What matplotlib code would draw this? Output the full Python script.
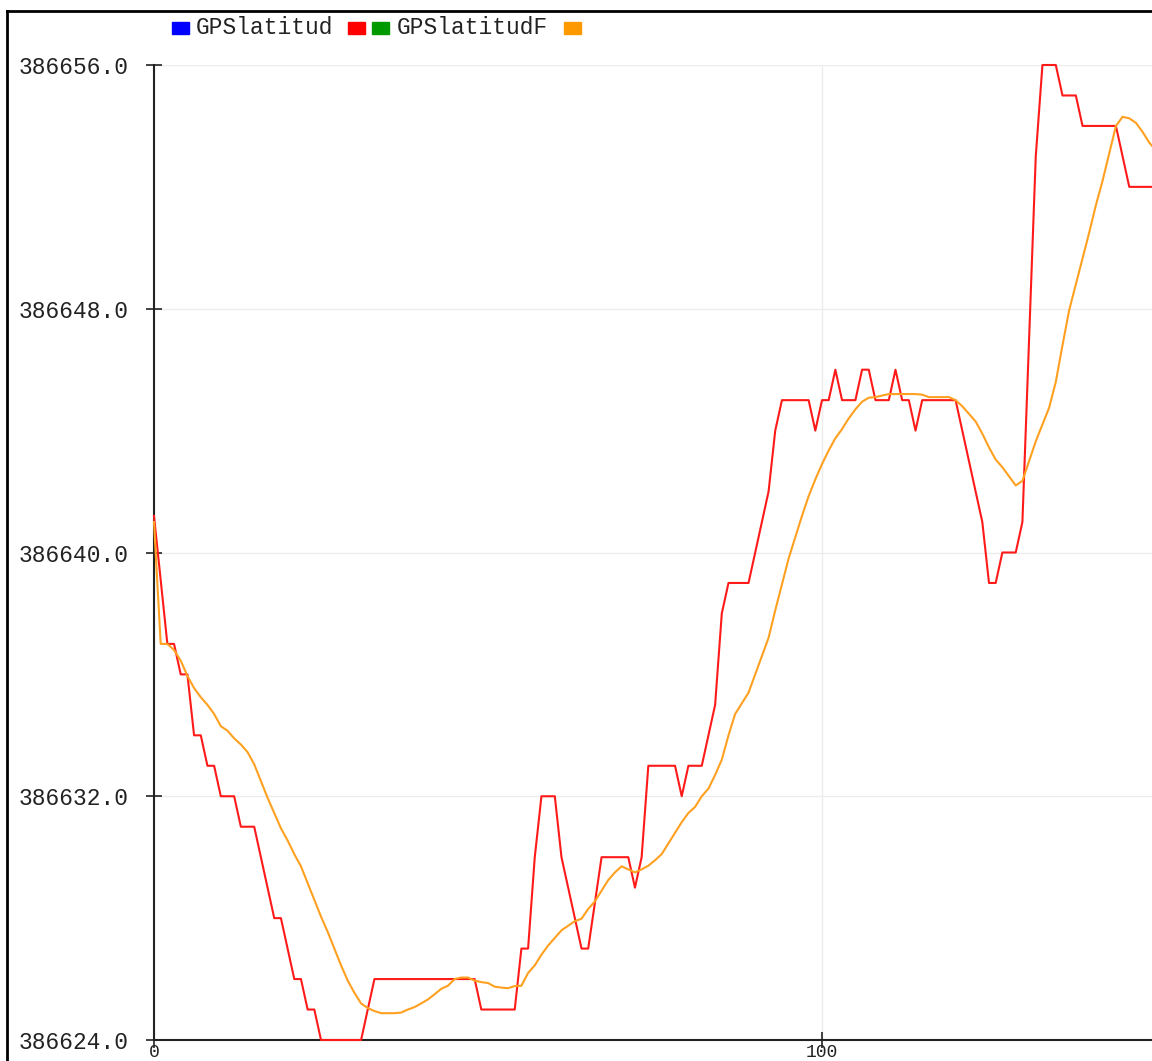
import matplotlib
matplotlib.use("Agg")
import matplotlib.pyplot as plt
from matplotlib.ticker import FormatStrFormatter
from matplotlib.lines import Line2D
from matplotlib.patches import Rectangle

# Sample index (one reading per step)
x_first = 0
x_last = 150

# GPS latitude readings (raw)
gps_lat = [
    386641.2, 386639.1, 386637, 386637, 386636, 386636, 386634, 386634, 386633, 386633,
    386632, 386632, 386632, 386631, 386631, 386631, 386630, 386629, 386628, 386628,
    386627, 386626, 386626, 386625, 386625, 386624, 386624, 386624, 386624, 386624,
    386624, 386624, 386625, 386626, 386626, 386626, 386626, 386626, 386626, 386626,
    386626, 386626, 386626, 386626, 386626, 386626, 386626, 386626, 386626, 386625,
    386625, 386625, 386625, 386625, 386625, 386627, 386627, 386630, 386632, 386632,
    386632, 386630, 386629, 386628, 386627, 386627, 386628.5, 386630, 386630, 386630,
    386630, 386630, 386629, 386630, 386633, 386633, 386633, 386633, 386633, 386632,
    386633, 386633, 386633, 386634, 386635, 386638, 386639, 386639, 386639, 386639,
    386640, 386641, 386642, 386644, 386645, 386645, 386645, 386645, 386645, 386644,
    386645, 386645, 386646, 386645, 386645, 386645, 386646, 386646, 386645, 386645,
    386645, 386646, 386645, 386645, 386644, 386645, 386645, 386645, 386645, 386645,
    386645, 386644, 386643, 386642, 386641, 386639, 386639, 386640, 386640, 386640,
    386641, 386647, 386653, 386656, 386656, 386656, 386655, 386655, 386655, 386654,
    386654, 386654, 386654, 386654, 386654, 386653, 386652, 386652, 386652, 386652,
    386652,
]

# GPS latitude after filtering
gps_lat_f = [
    386641.0, 386637.0, 386637.0, 386636.8, 386636.45, 386635.95, 386635.55, 386635.25, 386635.0, 386634.7,
    386634.3, 386634.15, 386633.9, 386633.7, 386633.45, 386633.05, 386632.5, 386631.95, 386631.45, 386630.95,
    386630.55, 386630.1, 386629.7, 386629.15, 386628.6, 386628.05, 386627.55, 386627.0, 386626.45, 386625.95,
    386625.55, 386625.2, 386625.05, 386624.95, 386624.88, 386624.88, 386624.88, 386624.9, 386625.0, 386625.08,
    386625.2, 386625.33, 386625.5, 386625.68, 386625.78, 386626.0, 386626.05, 386626.05, 386625.95, 386625.9,
    386625.87, 386625.75, 386625.72, 386625.7, 386625.77, 386625.78, 386626.2, 386626.45, 386626.8, 386627.1,
    386627.35, 386627.6, 386627.75, 386627.9, 386627.98, 386628.3, 386628.55, 386628.9, 386629.25, 386629.5,
    386629.7, 386629.6, 386629.5, 386629.6, 386629.72, 386629.9, 386630.1, 386630.45, 386630.8, 386631.15,
    386631.45, 386631.65, 386632.0, 386632.25, 386632.7, 386633.2, 386634.0, 386634.7, 386635.05, 386635.4,
    386636.0, 386636.6, 386637.2, 386638.1, 386638.95, 386639.8, 386640.5, 386641.2, 386641.85, 386642.4,
    386642.9, 386643.35, 386643.75, 386644.05, 386644.4, 386644.7, 386644.95, 386645.08, 386645.1, 386645.15,
    386645.2, 386645.2, 386645.2, 386645.2, 386645.2, 386645.18, 386645.1, 386645.1, 386645.1, 386645.1,
    386645.0, 386644.8, 386644.55, 386644.3, 386643.9, 386643.45, 386643.05, 386642.8, 386642.5, 386642.2,
    386642.35, 386643.0, 386643.65, 386644.2, 386644.75, 386645.6, 386646.8, 386647.95, 386648.8, 386649.65,
    386650.5, 386651.4, 386652.2, 386653.1, 386654.0, 386654.3, 386654.25, 386654.1, 386653.8, 386653.45,
    386653.2,
]

y_ticks = [386624.0, 386632.0, 386640.0, 386648.0, 386656.0]
x_ticks = [0, 100]

mono = "Liberation Mono"
W, H = 1152, 1061

fig = plt.figure(figsize=(W / 100, H / 100), dpi=100)
ax = fig.add_axes([154 / W, 21 / H, 1 - 154 / W, (1040 - 65) / H])

xs = list(range(x_first, x_last + 1))
ax.plot(xs, gps_lat, color="#ff1a1a", lw=1.5, clip_on=False, zorder=3)
ax.plot(xs, gps_lat_f, color="#ffa020", lw=1.5, clip_on=False, zorder=3)

ax.set_xlim(0, (W - 154) / 6.68)
ax.set_ylim(386624, 386656)
ax.set_yticks(y_ticks)
ax.set_xticks(x_ticks)
ax.yaxis.set_major_formatter(FormatStrFormatter("%.1f"))
ax.grid(True, color="#ececec", lw=1)
ax.set_axisbelow(True)

for side in ["top", "right"]:
    ax.spines[side].set_visible(False)
for side in ["left", "bottom"]:
    ax.spines[side].set_color("#222222")
    ax.spines[side].set_linewidth(1.5)

ax.tick_params(direction="inout", length=12, width=1.2, color="#222222",
               labelsize=16.5, labelcolor="#222222")
ax.tick_params(axis="y", pad=12)
ax.tick_params(axis="x", pad=-3, labelsize=13)
for lbl in ax.get_yticklabels() + ax.get_xticklabels():
    lbl.set_family(mono)

# legend drawn across the top, like the original
def box(x0, color):
    fig.add_artist(Rectangle((x0 / W, 1 - 34 / H), 17 / W, 12 / H,
                             transform=fig.transFigure, color=color))

box(172, "#0000ff")
fig.text(196 / W, 1 - 28 / H, "GPSlatitud", family=mono, fontsize=16.5,
         color="#222222", va="center")
box(348, "#ff0000")
box(372, "#009900")
fig.text(397 / W, 1 - 28 / H, "GPSlatitudF", family=mono, fontsize=16.5,
         color="#222222", va="center")
box(564, "#ff9900")

# outer frame
fig.add_artist(Line2D([7 / W, 1], [1 - 11 / H, 1 - 11 / H], transform=fig.transFigure,
                      color="black", lw=2))
fig.add_artist(Line2D([7 / W, 7 / W], [0, 1 - 11 / H], transform=fig.transFigure,
                      color="black", lw=2))

fig.savefig("out.png", dpi=100)
